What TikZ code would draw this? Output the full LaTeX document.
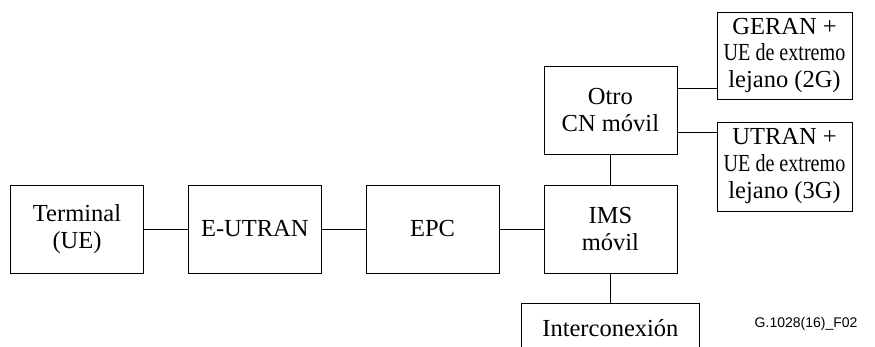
\documentclass[tikz,border=0pt]{standalone}
\usepackage{fontspec}
\usepackage{graphicx}
\setmainfont{Liberation Serif}
\newfontfamily\figfont{Liberation Sans}
\usetikzlibrary{positioning}

\tikzset{
  blk/.style={draw,line width=0.8pt,align=center,inner sep=0pt,
    minimum width=133pt,minimum height=88pt,
    font=\fontsize{24.5}{27}\selectfont},
  link/.style={line width=0.8pt}
}
\newcommand{\squeezed}[1]{\scalebox{0.82}[1]{#1}}

\begin{document}
\begin{tikzpicture}[x=1pt,y=-1pt,node distance=44pt]
  \useasboundingbox (0,0) rectangle (875,347);
  \clip (0,0) rectangle (875,347);
  % main chain
  \node[blk] (term) at (77,229) {Terminal\\(UE)};
  \node[blk,right=of term] (eutran) {E-UTRAN};
  \node[blk,right=of eutran] (epc) {EPC};
  \node[blk,right=of epc] (ims) {IMS\\m\'ovil};
  % upper part
  \node[blk,above=30pt of ims] (otro) {Otro\\CN m\'ovil};
  \node[blk,minimum width=135pt,minimum height=87pt] (geran) at (784.5,55.5)
    {GERAN +\\\squeezed{UE de extremo}\\lejano (2G)};
  \node[blk,minimum width=135pt,minimum height=89pt] (utran) at (784.5,166.5)
    {UTRAN +\\\squeezed{UE de extremo}\\lejano (3G)};
  % lower part, cut by the frame
  \node[blk,minimum width=178pt,minimum height=48pt,below=30pt of ims] (inter)
    {Interconexi\'on};
  \node[font=\figfont\fontsize{14}{16}\selectfont,anchor=east] (tag) at (861,324)
    {G.1028(16)\_F02};

  \draw[link] (term) -- (eutran);
  \draw[link] (eutran) -- (epc);
  \draw[link] (epc) -- (ims);
  \draw[link] (ims) -- (otro);
  \draw[link] (ims) -- (inter);
  \draw[link] ([yshift=22pt]otro.east) -- ([yshift=22pt]otro.east -| geran.west);
  \draw[link] ([yshift=-22pt]otro.east) -- ([yshift=-22pt]otro.east -| utran.west);
\end{tikzpicture}
\end{document}
